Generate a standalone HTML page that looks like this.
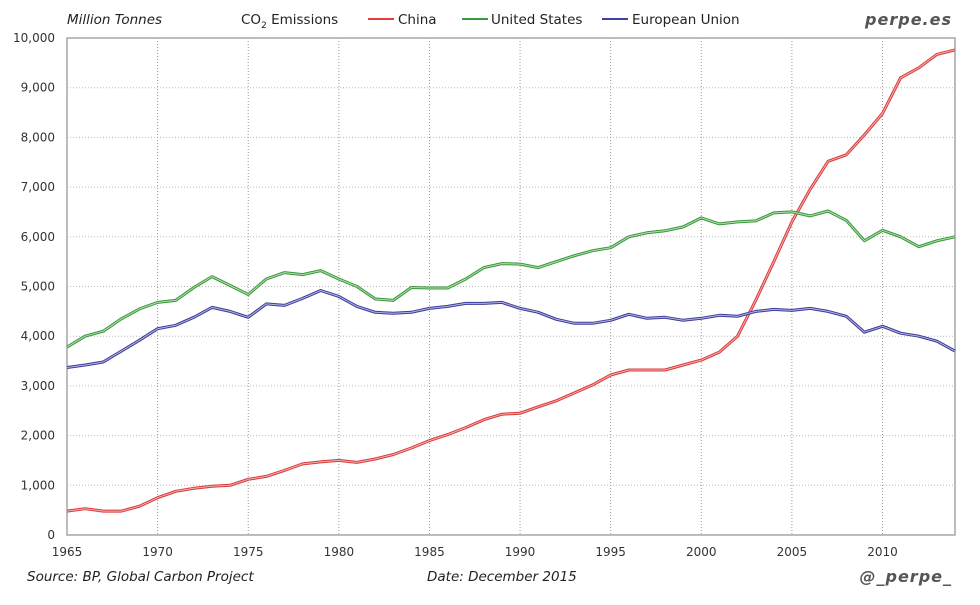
<!DOCTYPE html>
<html><head><meta charset="utf-8"><style>
body{margin:0;background:#fff}
svg text{font-family:"DejaVu Sans","Liberation Sans",sans-serif}
</style></head><body>
<svg id="s" width="980" height="600" xmlns="http://www.w3.org/2000/svg">
<rect width="980" height="600" fill="#fff"/>
<g id="grid"></g>
<rect x="67" y="38" width="888" height="497" fill="none" stroke="#a6a6a6" stroke-width="1.5"/>
<g id="lines"></g>
<g font-size="12" fill="#333" id="labels"></g>
<text x="67" y="24" font-size="13.5" font-style="italic" fill="#222">Million Tonnes</text>
<text x="241" y="24" font-size="13.5" fill="#222">CO<tspan font-size="9" dy="4">2</tspan><tspan dy="-4"> Emissions</tspan></text>
<line x1="368" y1="19" x2="394" y2="19" stroke="#e04040" stroke-width="2"/>
<text x="398" y="24" font-size="13.5" fill="#222">China</text>
<line x1="462" y1="19" x2="488" y2="19" stroke="#3a9a3a" stroke-width="2"/>
<text x="491" y="24" font-size="13.5" fill="#222">United States</text>
<line x1="602" y1="19" x2="628" y2="19" stroke="#4040a0" stroke-width="2"/>
<text x="632" y="24" font-size="13.5" fill="#222">European Union</text>
<text x="952" y="25" font-size="16" font-style="italic" font-weight="bold" fill="#555" text-anchor="end" letter-spacing="1">perpe.es</text>
<text x="27" y="581" font-size="13.5" font-style="italic" fill="#222">Source: BP, Global Carbon Project</text>
<text x="427" y="581" font-size="13.5" font-style="italic" fill="#222">Date: December 2015</text>
<text x="952" y="582" font-size="16" font-style="italic" font-weight="bold" fill="#555" text-anchor="end" letter-spacing="1">@_perpe_</text>
</svg>
<script>
var X0=67,XS=888/49,Y0=535,YS=49.7;
var ns="http://www.w3.org/2000/svg";
function el(p,t,a,txt){var e=document.createElementNS(ns,t);for(var k in a)e.setAttribute(k,a[k]);if(txt!=null)e.textContent=txt;document.getElementById(p).appendChild(e);}
for(var i=1;i<10;i++){var y=Y0-i*YS;el("grid","line",{x1:67,x2:955,y1:y,y2:y,stroke:"#bbb","stroke-dasharray":"1,2"});}
for(var i=0;i<=10;i++){el("labels","text",{x:55,y:Y0-i*YS+4,"text-anchor":"end"},(i==0?"0":i+",000"));}
for(var yr=1965;yr<=2010;yr+=5){var x=X0+(yr-1965)*XS;if(yr>1965)el("grid","line",{x1:x,x2:x,y1:38,y2:535,stroke:"#999","stroke-dasharray":"1,2"});el("labels","text",{x:x,y:556,"text-anchor":"middle"},yr);}
var C=[.48,.53,.48,.48,.58,.75,.88,.94,.98,1.0,1.12,1.18,1.3,1.43,1.47,1.5,1.46,1.53,1.62,1.75,1.9,2.02,2.16,2.32,2.43,2.45,2.58,2.7,2.86,3.02,3.22,3.32,3.32,3.32,3.42,3.52,3.68,4.0,4.72,5.5,6.3,6.95,7.52,7.65,8.05,8.48,9.2,9.4,9.67,9.76];
var U=[3.78,4.0,4.1,4.35,4.55,4.68,4.72,4.98,5.2,5.02,4.84,5.15,5.28,5.24,5.32,5.15,5.0,4.75,4.72,4.98,4.97,4.97,5.15,5.38,5.46,5.45,5.38,5.5,5.62,5.72,5.78,6.0,6.08,6.12,6.2,6.38,6.26,6.3,6.32,6.48,6.5,6.42,6.52,6.33,5.92,6.13,6.0,5.8,5.92,6.0];
var E=[3.37,3.42,3.48,3.7,3.92,4.15,4.22,4.38,4.58,4.5,4.38,4.65,4.62,4.76,4.92,4.8,4.6,4.48,4.46,4.48,4.56,4.6,4.66,4.66,4.68,4.56,4.48,4.34,4.26,4.26,4.32,4.44,4.36,4.38,4.32,4.36,4.42,4.4,4.5,4.54,4.52,4.56,4.5,4.4,4.08,4.2,4.06,4.0,3.9,3.7];
function line(d,dark,light){var p=d.map(function(v,i){return (i?"L":"M")+(X0+i*XS).toFixed(1)+","+(Y0-v*YS).toFixed(1)}).join("");
el("lines","path",{d:p,fill:"none",stroke:dark,"stroke-width":3,"stroke-linejoin":"round"});
el("lines","path",{d:p,fill:"none",stroke:light,"stroke-width":1,"stroke-linejoin":"round"});}
line(C,"#d83a3a","#f4b0b0");line(U,"#3a963a","#b0e0b0");line(E,"#3c3c98","#b4b4e8");
</script>
</body></html>
